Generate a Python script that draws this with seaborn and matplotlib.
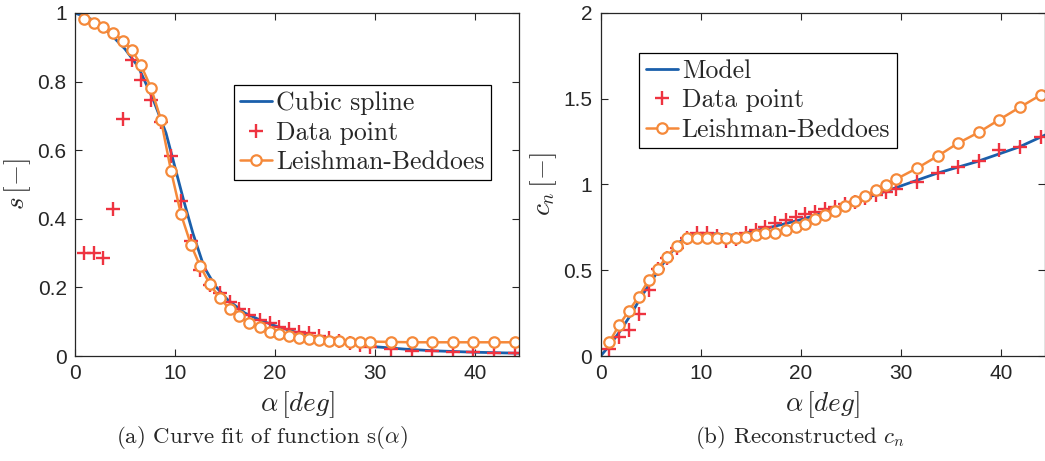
import numpy as np
import pandas as pd
import matplotlib
matplotlib.use("Agg")
import matplotlib.pyplot as plt
import seaborn as sns

# ---------------- data ----------------
alpha = [0.85, 1.85, 2.8, 3.8, 4.8, 5.7, 6.6, 7.6, 8.6, 9.6, 10.6, 11.6, 12.5,
         13.5, 14.5, 15.5, 16.4, 17.4, 18.5, 19.5, 20.4, 21.4, 22.4, 23.4,
         24.4, 25.4, 26.4, 27.5, 28.5, 29.5, 31.6, 33.7, 35.7, 37.8, 39.8,
         41.9, 44.0]

s_data = [0.30, 0.30, 0.287, 0.43, 0.69, 0.863, 0.805, 0.746, 0.683, 0.583,
          0.452, 0.336, 0.25, 0.207, 0.183, 0.158, 0.136, 0.12, 0.105, 0.096,
          0.084, 0.078, 0.069, 0.066, 0.058, 0.052, 0.045, 0.037, 0.032, 0.027,
          0.0195, 0.0155, 0.0146, 0.0126, 0.0107, 0.0078, 0.0078]

s_lb = [0.982, 0.972, 0.960, 0.943, 0.919, 0.892, 0.848, 0.782, 0.688, 0.540,
        0.413, 0.324, 0.263, 0.209, 0.168, 0.136, 0.117, 0.097, 0.084, 0.071,
        0.063, 0.058, 0.053, 0.050, 0.047, 0.045, 0.044, 0.042, 0.042, 0.042,
        0.041, 0.040, 0.040, 0.040, 0.040, 0.040, 0.040]

spline_alpha = [0, 1.8, 3.5, 5.0, 6.33, 7.83, 9.1, 10.0, 10.9, 11.8, 12.9, 14.0,
                15.3, 17.0, 18.5, 20.0, 22.0, 24.0, 26.0, 28.0, 30.0, 33.0,
                36.0, 40.0, 44.5]
spline_s = [1.0, 0.98, 0.94, 0.895, 0.843, 0.747, 0.65, 0.55, 0.45, 0.357,
            0.26, 0.205, 0.163, 0.125, 0.105, 0.088, 0.07, 0.056, 0.045, 0.035,
            0.027, 0.02, 0.015, 0.011, 0.008]

cn_data = [0.043, 0.108, 0.152, 0.245, 0.383, 0.505, 0.57, 0.632, 0.69, 0.72,
           0.72, 0.70, 0.668, 0.685, 0.715, 0.735, 0.755, 0.775, 0.795, 0.812,
           0.83, 0.84, 0.855, 0.871, 0.885, 0.90, 0.92, 0.939, 0.955, 0.974,
           1.016, 1.065, 1.100, 1.139, 1.201, 1.220, 1.275]

cn_lb = [0.080, 0.181, 0.262, 0.346, 0.443, 0.507, 0.579, 0.643, 0.690, 0.690,
         0.686, 0.686, 0.686, 0.690, 0.696, 0.705, 0.715, 0.719, 0.735, 0.750,
         0.770, 0.797, 0.822, 0.846, 0.875, 0.906, 0.933, 0.968, 0.997, 1.030,
         1.094, 1.166, 1.240, 1.304, 1.376, 1.450, 1.522]

model_alpha = [0, 1, 2, 3, 4, 5, 6, 7, 8, 9, 10, 11, 12, 13, 14, 15, 16.6, 18,
               19.9, 22, 25, 29.6, 33.6, 37.6, 41.9, 44.5]
model_cn = [0, 0.07, 0.15, 0.24, 0.34, 0.43, 0.52, 0.60, 0.67, 0.705, 0.715,
            0.715, 0.71, 0.705, 0.71, 0.725, 0.745, 0.765, 0.793, 0.83, 0.89,
            0.983, 1.065, 1.133, 1.22, 1.29]

x_ticks = [0, 10, 20, 30, 40]
x_ticklabels = ["0", "10", "20", "30", "40"]
s_ticks = [0, 0.2, 0.4, 0.6, 0.8, 1]
s_ticklabels = ["0", "0.2", "0.4", "0.6", "0.8", "1"]
cn_ticks = [0, 0.5, 1, 1.5, 2]
cn_ticklabels = ["0", "0.5", "1", "1.5", "2"]

legend_a = ["Cubic spline", "Data point", "Leishman-Beddoes"]
legend_b = ["Model", "Data point", "Leishman-Beddoes"]

# ---------------- style ----------------
sns.set_style("ticks")
plt.rcParams["font.family"] = ["Liberation Sans", "DejaVu Sans"]
plt.rcParams["mathtext.fontset"] = "cm"

BLUE = "#1A5FAB"
RED = "#EE3340"
ORANGE = "#F5893A"
AX = "#262626"

fig = plt.figure(figsize=(10.45, 4.61), dpi=100)
W, H = 1045.0, 461.0
ax1 = fig.add_axes([75 / W, 105 / H, 444 / W, 343 / H])
ax2 = fig.add_axes([600.7 / W, 105 / H, 444 / W, 343 / H])


def panel(ax, lx, ly, dy, lby, labels):
    df_line = pd.DataFrame({"x": lx, "y": ly})
    df_pts = pd.DataFrame({"x": alpha, "d": dy, "lb": lby})
    sns.lineplot(data=df_line, x="x", y="y", ax=ax, color=BLUE, lw=2.0,
                 label=labels[0], estimator=None, sort=False)
    sns.lineplot(data=df_pts, x="x", y="d", ax=ax, color=RED, linestyle="",
                 marker="+", markersize=10.5, markeredgewidth=1.7,
                 markeredgecolor=RED,
                 label=labels[1], estimator=None, sort=False)
    sns.lineplot(data=df_pts, x="x", y="lb", ax=ax, color=ORANGE, lw=1.8,
                 marker="o", markersize=7.5, markerfacecolor="white",
                 markeredgecolor=ORANGE, markeredgewidth=1.6,
                 label=labels[2], estimator=None, sort=False)
    ax.set_xlim(0, 44.4)
    ax.set_xticks(x_ticks)
    ax.set_xticklabels(x_ticklabels)
    ax.tick_params(axis="both", which="both", direction="in", length=5,
                   width=0.8, colors=AX, labelsize=15, top=True, right=True,
                   pad=6)
    for sp in ax.spines.values():
        sp.set_visible(True)
        sp.set_color(AX)
        sp.set_linewidth(0.9)
    ax.set_xlabel(r"$\alpha\,[deg]$", fontsize=19.5, color=AX, labelpad=4)


panel(ax1, spline_alpha, spline_s, s_data, s_lb, legend_a)
ax1.set_ylim(0, 1)
ax1.set_yticks(s_ticks)
ax1.set_yticklabels(s_ticklabels)
ax1.set_ylabel(r"$s\,[-]$", fontsize=19.5, color=AX, labelpad=3)

panel(ax2, model_alpha, model_cn, cn_data, cn_lb, legend_b)
ax2.set_ylim(0, 2)
ax2.set_yticks(cn_ticks)
ax2.set_yticklabels(cn_ticklabels)
ax2.set_ylabel(r"$c_n\,[-]$", fontsize=19.5, color=AX, labelpad=3)

for ax, anchor in ((ax1, (0.358, 0.790)), (ax2, (0.087, 0.884))):
    leg = ax.legend(loc="upper left", bbox_to_anchor=anchor, borderaxespad=0,
                    prop={"family": "cmr10", "size": 18.5}, frameon=True,
                    fancybox=False, framealpha=1, edgecolor="black",
                    handlelength=1.25, handletextpad=0.15, borderpad=0.25,
                    labelspacing=0.22, numpoints=1)
    leg.get_frame().set_linewidth(0.9)

fig.text(262 / W, 1 - 437 / H, r"(a) Curve fit of function s($\alpha$)",
         ha="center", va="center", family="cmr10", fontsize=16.5)
fig.text(800 / W, 1 - 437 / H, r"(b) Reconstructed $c_n$",
         ha="center", va="center", family="cmr10", fontsize=16.5)

fig.savefig("out.png", dpi=100)
